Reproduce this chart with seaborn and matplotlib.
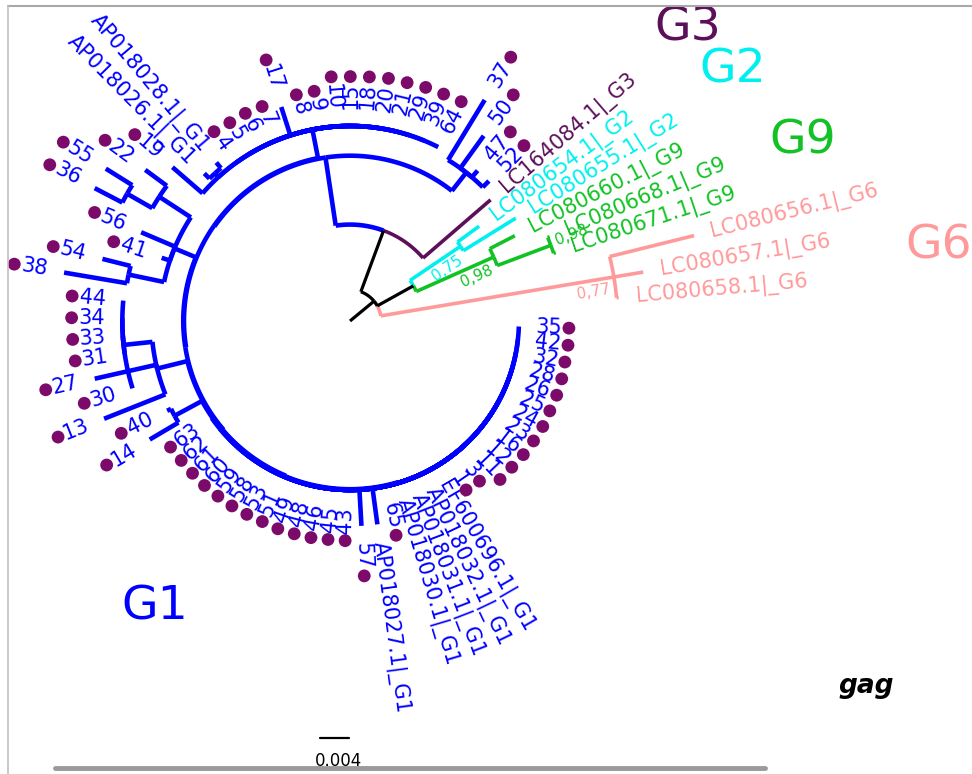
import numpy as np
import pandas as pd
import matplotlib
matplotlib.use("Agg")
import matplotlib.pyplot as plt
import seaborn as sns
from matplotlib.lines import Line2D
from matplotlib.textpath import TextPath
from matplotlib.font_manager import FontProperties

# ---------------- data ----------------
# leaves in drawing order (counter-clockwise, starting at the G6 clade)
leaf_order = [
    "LC080658.1|_G6", "LC080657.1|_G6", "LC080656.1|_G6",
    "LC080671.1|_G9", "LC080668.1|_G9", "LC080660.1|_G9",
    "LC080655.1|_G2", "LC080654.1|_G2",
    "LC164084.1|_G3",
    "52", "47", "50", "37",
    "64", "39", "29", "21", "20", "18", "15", "10", "9", "8",
    "17", "7", "6", "5", "4",
    "AP018028.1|_G1", "AP018026.1|_G1",
    "19", "22", "55", "36", "56", "41", "54", "38",
    "44", "34", "33", "31", "27", "30", "13", "40", "14",
    "63", "62", "61", "60", "59", "58", "53", "51", "49", "48", "46", "45", "43",
    "57", "AP018027.1|_G1", "65", "AP018030.1|_G1", "AP018031.1|_G1",
    "AP018032.1|_G1", "EF600696.1|_G1",
    "1", "3", "11", "12", "16", "23", "24", "25", "26", "28", "32", "42", "35",
]
leaf_parent = (
    ["G6n"] * 3 + ["G9s", "G9s", "G9n"] + ["G2n", "G2n"] + ["An"]
    + ["N1"] * 4 + ["N2"] * 10 + ["N2"] * 5 + ["APn", "APn"]
    + ["N2", "L1", "L1a", "L1a", "Ln", "Ln", "L3", "L3"]
    + ["K1", "K1", "K1", "K1", "Kn", "K1", "Kn", "Mn", "Mn"]
    + ["C6"] * 13 + ["C6"] * 7 + ["C6"] * 13
)
leaf_len = (
    [0.0003, 0.0041, 0.0120] + [0.0003, 0.0003, 0.0039] + [0.0085, 0.0037] + [0.0123]
    + [0.0012, 0.0012, 0.0055, 0.0097] + [0.0] * 10
    + [0.0041, 0.0, 0.0, 0.0, 0.0] + [0.0010, 0.0010]
    + [0.0055, 0.0037, 0.0043, 0.0043, 0.0051, 0.0012, 0.0040, 0.0088]
    + [0.0, 0.0, 0.0, 0.0, 0.0087, 0.0, 0.0091, 0.0006, 0.0046]
    + [0.0] * 13 + [0.0050, 0.0050, 0.0, 0.0, 0.0, 0.0, 0.0] + [0.0] * 13
)
# internal nodes (parents listed before children) and branch lengths
node_names = ["root", "G6n", "Bn", "An", "G9n", "G9s", "G2n", "C1", "N1", "C2",
              "N2", "APn", "C3", "Ln", "L1", "L1a", "L3", "C4", "Kn", "K1",
              "C5", "Mn", "C6"]
node_parent = [None, "root", "root", "root", "Bn", "G9n", "Bn", "An", "C1", "C1",
               "C2", "N2", "C2", "C3", "Ln", "L1", "Ln", "C3", "C4", "Kn",
               "C4", "C5", "C5"]
node_len = [0.0043, 0.0326, 0.0057, 0.0090, 0.0117, 0.0079, 0.0084, 0.0095, 0.0032, 0.0001,
            0.0040, 0.0007, 0.0001, 0.0032, 0.0052, 0.0040, 0.0050, 0.0001, 0.0043, 0.0040,
            0.0001, 0.0043, 0.0001]
support_nodes = ["G2n", "G9n", "G6n", "G9s"]
support_vals = ["0,75", "0,98", "0,77", "0,98"]
group_names = ["G1", "G2", "G3", "G6", "G9"]
group_colors = ["#0000ff", "#00f0f0", "#5c1059", "#ff9a9a", "#12c225"]
scale_len = 0.004
scale_text = "0.004"
gene_name = "gag"

# ---------------- layout constants ----------------
W, H = 972, 774
K = 7250.0                 # pixels per substitution unit
CX, CY = 350, 321          # root position in pixels
THETA0, DTHETA = 5.0, 4.47
LABEL_FS = 15
GAP = 17 / K
DOT_COLOR = "#7b0a6b"

sns.set_theme(style="white")
plt.rcParams["font.family"] = ["DejaVu Sans"]

fig = plt.figure(figsize=(W / 100, H / 100), dpi=100)
ax = fig.add_axes([0, 0, 1, 1])


def px(x, y):
    return (x - CX) / K, (CY - y) / K


gcol = dict(zip(group_names, group_colors))

parent, blen = {}, {}
for n, p, l in zip(node_names, node_parent, node_len):
    parent[n], blen[n] = p, l
for n, p, l in zip(leaf_order, leaf_parent, leaf_len):
    parent[n], blen[n] = p, l
children = {n: [] for n in node_names}
for n in node_names[1:] + leaf_order:
    children[parent[n]].append(n)

depth = {}
for n in node_names + leaf_order:
    depth[n] = blen[n] if parent[n] is None else depth[parent[n]] + blen[n]

angle, color = {}, {}
for i, n in enumerate(leaf_order):
    angle[n] = THETA0 + i * DTHETA
    g = n.split("|_")[1] if "|_" in n else "G1"
    color[n] = gcol[g]
for n in reversed(node_names):
    ca = [angle[c] for c in children[n]]
    angle[n] = (min(ca) + max(ca)) / 2
    cc = set(color[c] for c in children[n])
    color[n] = cc.pop() if len(cc) == 1 else "black"


def pol(r, a):
    t = np.deg2rad(a)
    return r * np.cos(t), r * np.sin(t)


segments = []
for n in node_names + leaf_order:
    p = parent[n]
    if p is None:
        segments.append(([0, depth[n]], [angle[n], angle[n]], "black"))
    else:
        segments.append(([depth[p], depth[n]], [angle[n], angle[n]], color[n]))
for n in node_names:
    for c in children[n]:
        a = np.linspace(angle[n], angle[c], 60)
        segments.append((np.full(60, depth[n]), a, color[c]))

# colored first, black on top
segments.sort(key=lambda s: 1 if s[2] == "black" else 0)
for r, a, col in segments:
    x, y = pol(np.asarray(r, float), np.asarray(a, float))
    lw = 3.3 if col == gcol["G1"] else (2.3 if col == "black" else 2.6)
    ax.plot(x, y, color=col, lw=lw, solid_capstyle="butt", zorder=2)

# labels and sample dots
fp = FontProperties(family="DejaVu Sans", size=LABEL_FS)
dots = []
for n in leaf_order:
    a = angle[n] % 360
    r = depth[n] + GAP
    x, y = pol(r, a)
    if 90 < a < 270:
        rot, ha = a - 180, "right"
    else:
        rot, ha = (a if a <= 90 else a - 360), "left"
    ax.text(x, y, n, rotation=rot, rotation_mode="anchor", ha=ha, va="center",
            fontsize=LABEL_FS, color=color[n], zorder=4)
    if n.isdigit():
        wpx = TextPath((0, 0), n, prop=fp).get_extents().width * 100 / 72
        dx, dy = pol(r + (wpx + 10) / K, a)
        dots.append((dx, dy))

dots_df = pd.DataFrame(dots, columns=["x", "y"])
sns.scatterplot(data=dots_df, x="x", y="y", color=DOT_COLOR, s=85,
                edgecolor="none", legend=False, ax=ax, zorder=5)

# support values
for n, s in zip(support_nodes, support_vals):
    a = angle[n]
    t = np.deg2rad(a)
    if n == "G9s":
        r = depth[n] + 6 / K
        x, y = pol(r, a)
        x -= np.sin(t) * 2 / K
        y += np.cos(t) * 2 / K
        ha = "left"
    else:
        r = depth[n] - 6 / K
        x, y = pol(r, a)
        x += np.sin(t) * 11 / K
        y -= np.cos(t) * 11 / K
        ha = "right"
    ax.text(x, y, s, rotation=a, rotation_mode="anchor", ha=ha, va="center",
            fontsize=11, color=color[n], zorder=4)

# group labels
for g, (gx, gy, ha) in zip(["G3", "G2", "G9", "G6", "G1"],
                           [(688, 28, "center"), (733, 70, "center"), (803, 141, "center"),
                            (905, 246, "left"), (155, 607, "center")]):
    ax.text(*px(gx, gy), g, fontsize=34, color=gcol[g], ha=ha, va="center", zorder=4)

ax.text(*px(866, 686), gene_name, fontsize=19, fontweight="bold", fontstyle="italic",
        color="black", ha="center", va="center")

# scale bar
x0, y0 = px(320, 738)
ax.plot([x0, x0 + scale_len], [y0, y0], color="black", lw=1.6)
ax.text(*px(338, 761), scale_text, fontsize=12, ha="center", va="center", color="black")

ax.set_xlim(-CX / K, (W - CX) / K)
ax.set_ylim(-(H - CY) / K, CY / K)
ax.axis("off")

# frame lines
def fline(xs, ys, **kw):
    fig.add_artist(Line2D([x / W for x in xs], [1 - y / H for y in ys],
                          transform=fig.transFigure, **kw))

fline([8, W], [6, 6], color="#a8a8a8", lw=1.5)
fline([8, 8], [6, H], color="#c0c0c0", lw=1.2)
fline([55, 765], [768, 768], color="#9a9a9a", lw=3.5)

fig.savefig("out.png", dpi=100)
